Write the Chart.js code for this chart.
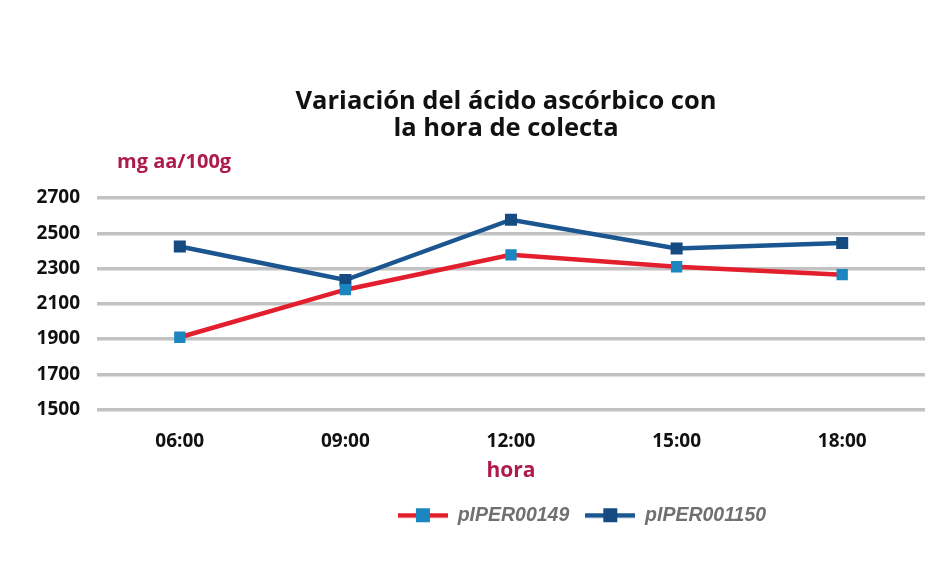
<!DOCTYPE html>
<html><head><meta charset="utf-8">
<script src="https://cdn.jsdelivr.net/npm/chart.js@4"></script>
<style>html,body{margin:0;padding:0;background:#fff}#wrap{width:950px;height:563px;position:relative}</style>
</head><body><div id="wrap"><canvas id="c"></canvas></div>
<script>
const categories = ['06:00','09:00','12:00','15:00','18:00'];
const seriesNames = ['pIPER00149','pIPER001150'];
const pIPER00149 = [1910, 2180, 2378, 2310, 2265];
const pIPER001150 = [2425, 2235, 2577, 2414, 2445];
const yTicks = [1500,1700,1900,2100,2300,2500,2700];
const titleLines = ['Variación del ácido ascórbico con','la hora de colecta'];
const yUnit = 'mg aa/100g';
const xTitle = 'hora';

const RED = '#e31e2d', RED_MK = '#1b86c0', BLUE = '#1c5690', BLUE_MK = '#164b82';
const CRIMSON = '#ad1a4b';

function legendIcon(line, mk){
  const c = document.createElement('canvas');
  c.width = 50; c.height = 16;
  const x = c.getContext('2d');
  x.fillStyle = line; x.fillRect(0,6,50,4.5);
  x.fillStyle = mk; x.fillRect(18,1,14,14);
  return c;
}
const icons = [legendIcon(RED, RED_MK), legendIcon(BLUE, BLUE_MK)];

const textPlugin = {
  id:'texts',
  afterLayout(chart){
    const lg = chart.legend;
    if(lg){ const s = 582 - (lg.left+lg.right)/2; lg.left += s; lg.right += s; }
    const tb = chart.titleBlock;
    if(tb){ const s = 506 - (tb.left+tb.right)/2; tb.left += s; tb.right += s; }
  },
  afterDraw(chart){
    const ctx = chart.ctx, a = chart.chartArea;
    ctx.save();
    ctx.fillStyle = CRIMSON;
    ctx.textBaseline = 'middle';
    ctx.font = 'bold 20px "Open Sans"';
    ctx.textAlign = 'left';
    ctx.fillText(yUnit, a.left + 20, a.top - 36);
    ctx.textAlign = 'center';
    ctx.font = 'bold 21px "Open Sans"';
    ctx.fillText(xTitle, (a.left + a.right)/2, a.bottom + 62);
    ctx.restore();
  }
};

new Chart(document.getElementById('c'), {
  type:'line',
  data:{
    labels: categories,
    datasets:[
      {label: seriesNames[0], data: pIPER00149, borderColor: RED, backgroundColor: RED_MK, borderWidth:4.5,
       pointStyle:'rect', pointRadius:8, pointBackgroundColor: RED_MK, pointBorderColor: RED_MK, pointBorderWidth:0, tension:0},
      {label: seriesNames[1], data: pIPER001150, borderColor: BLUE, backgroundColor: BLUE_MK, borderWidth:4.5,
       pointStyle:'rect', pointRadius:8.5, pointBackgroundColor: BLUE_MK, pointBorderColor: BLUE_MK, pointBorderWidth:0, tension:0}
    ]
  },
  options:{
    responsive:true, maintainAspectRatio:false, animation:false,
    layout:{padding:{left:0,right:25,top:70,bottom:28}},
    plugins:{
      title:{display:true, text:titleLines, color:'#111', font:{family:'"Open Sans"', weight:'bold', size:25.5, lineHeight:1.06},
        padding:{top:18.5,bottom:55.5}},
      legend:{position:'bottom', labels:{usePointStyle:true, pointStyleWidth:50, boxHeight:16, padding:16,
        color:'#707070', font:{family:'"Liberation Sans"', style:'italic', weight:'bold', size:19.5},
        generateLabels(chart){
          return chart.data.datasets.map((d,i)=>({text:d.label, pointStyle:icons[i], datasetIndex:i,
            fillStyle:d.borderColor, strokeStyle:d.borderColor, lineWidth:0, fontColor:'#707070', hidden:false}));
        }}},
      tooltip:{enabled:false}
    },
    scales:{
      x:{offset:true, grid:{display:false, drawTicks:false}, border:{display:false},
        afterFit(s){ s.height = 80; },
        ticks:{color:'#111', padding:21, font:{family:'"Open Sans"', weight:'bold', size:19}}},
      y:{min:1500, max:2700, border:{display:false},
        afterBuildTicks(s){ s.ticks = yTicks.map(v=>({value:v})); },
        afterFit(s){ s.width = 97; },
        grid:{color:'#c2c2c2', lineWidth:3.5, drawTicks:false},
        ticks:{color:'#111', padding:17, font:{family:'"Open Sans"', weight:'bold', size:19},
          callback:(v)=>String(v)}}
    }
  },
  plugins:[textPlugin]
});
</script></body></html>
